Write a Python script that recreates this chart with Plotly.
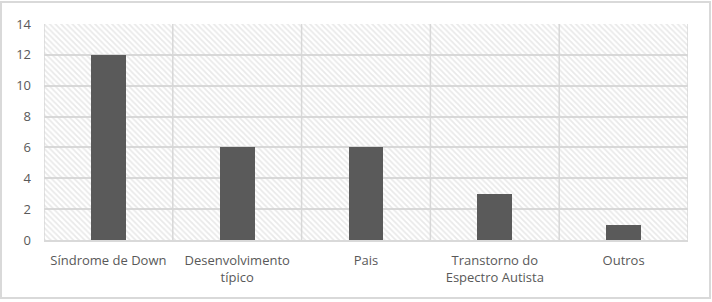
import plotly.graph_objects as go

categories = ["Síndrome de Down", "Desenvolvimento<br>típico", "Pais",
              "Transtorno do<br>Espectro Autista", "Outros"]
values = [12, 6, 6, 3, 1]
y_ticks = [0, 2, 4, 6, 8, 10, 12, 14]

W, H = 712, 302
ML, MR, MT, MB = 44, 24, 24, 62
PW, PH = W - ML - MR, H - MT - MB

n = len(categories)
pos = list(range(n))
grid = "#d9d9d9"
txt = "#595959"

fig = go.Figure()
# hatched plot-area background
fig.add_trace(go.Bar(
    x=[(n - 1) / 2], y=[y_ticks[-1]], width=[n],
    marker=dict(color="rgba(0,0,0,0)", line=dict(width=0),
                pattern=dict(shape="\\", size=4, solidity=0.45,
                             fgcolor="#d4d4d4", bgcolor="rgba(0,0,0,0)")),
    hoverinfo="skip", showlegend=False))
fig.add_trace(go.Bar(
    x=pos, y=values, width=0.27,
    marker=dict(color="#5a5a5a", line=dict(width=0)),
    showlegend=False))

shapes = []
for k in range(n + 1):
    shapes.append(dict(type="line", xref="x", yref="y",
                       x0=k - 0.5, x1=k - 0.5, y0=0, y1=y_ticks[-1],
                       line=dict(color=grid, width=1.5), layer="below"))
# outer border
shapes.append(dict(type="rect", xref="paper", yref="paper",
                   x0=(1 - ML) / PW, x1=(710 - ML) / PW,
                   y0=(MT + PH - 298) / PH, y1=(MT + PH - 2) / PH,
                   line=dict(color=grid, width=2), fillcolor="rgba(0,0,0,0)",
                   layer="below"))

fig.update_layout(
    width=W, height=H,
    margin=dict(l=ML, r=MR, t=MT, b=MB, pad=0),
    paper_bgcolor="white", plot_bgcolor="white",
    barmode="overlay", bargap=0,
    font=dict(family="Open Sans, Noto Sans, sans-serif", size=13, color=txt),
    shapes=shapes,
    xaxis=dict(range=[-0.5, n - 0.5], tickmode="array", tickvals=pos,
               ticktext=categories, showgrid=False, zeroline=False,
               showline=True, linecolor=grid, linewidth=1.5, ticks="",
               ticklabelstandoff=8, fixedrange=True),
    yaxis=dict(range=[0, y_ticks[-1]], tickmode="array", tickvals=y_ticks,
               showgrid=True, gridcolor=grid, gridwidth=1.5, zeroline=False,
               showline=False, ticks="", ticklabelstandoff=12, fixedrange=True),
)

fig.write_html("out.html", config={"displayModeBar": False})
